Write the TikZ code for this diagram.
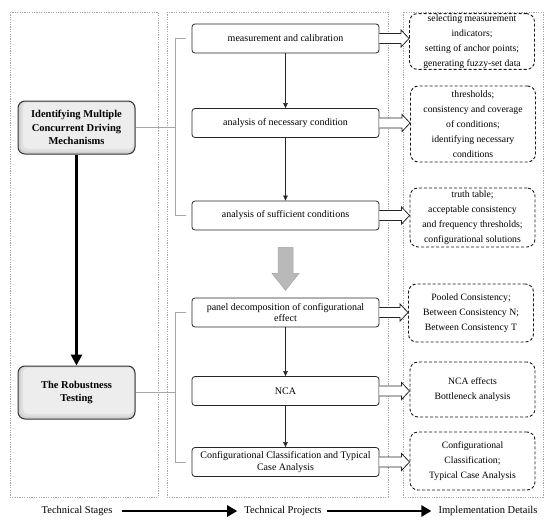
\documentclass[tikz,border=0pt]{standalone}
\usepackage{fontspec}
\setmainfont{Liberation Serif}
\usetikzlibrary{arrows.meta,calc}
\begin{document}
\begin{tikzpicture}[x=1pt,y=-1pt,
  panel/.style={draw=gray!70, dash pattern=on 1.2pt off 1.2pt, line width=0.6pt},
  midbox/.style={draw=black!85, rounded corners=3pt, line width=0.8pt, minimum width=187pt, minimum height=29pt, align=center, inner sep=1pt, font=\fontsize{10}{11.5}\selectfont},
  detail/.style={draw=black!90, dash pattern=on 3pt off 2pt, rounded corners=8pt, line width=0.9pt, minimum width=125pt, align=center, inner sep=1pt, font=\fontsize{9.7}{15}\selectfont},
  stagebox/.style={draw=black!80, rounded corners=7pt, line width=1pt, fill=gray!38, minimum width=117pt, minimum height=53pt, align=center, inner sep=1pt, font=\bfseries\fontsize{10.5}{13.5}\selectfont,
    path picture={
      \fill[gray!25, rounded corners=6pt] ($(path picture bounding box.south west)+(2.5,-2.5)$) rectangle ($(path picture bounding box.north east)+(-0.5,0.5)$);
      \fill[gray!14, rounded corners=5pt] ($(path picture bounding box.south west)+(5,-5)$) rectangle ($(path picture bounding box.north east)+(-1.5,1.5)$);
    }},
  thinarrow/.style={draw=black!85, line width=0.6pt, -{Triangle[length=5pt,width=4.5pt]}},
  bracket/.style={draw=gray!70, line width=0.6pt},
  hollow/.style={draw=black!85, line width=0.8pt, fill=white},
  bigarrow/.style={line width=2.6pt, -{Triangle[length=10pt,width=11pt]}},
  label/.style={font=\fontsize{10.5}{12}\selectfont, inner sep=0pt}
]
\useasboundingbox (0,0) rectangle (550,525);

% panels
\draw[panel] (10,12) rectangle (158,497);
\draw[panel] (167,12) rectangle (388,497);
\draw[panel] (403,12) rectangle (543,497);

% stage boxes
\node[stagebox] (A) at (76.5,127.5) {Identifying Multiple\\Concurrent Driving\\Mechanisms};
\node[stagebox] (B) at (76.5,392.5) {The Robustness\\Testing};

% middle boxes
\node[midbox] (m1) at (285.5,38.5) {measurement and calibration};
\node[midbox] (m2) at (285.5,123) {analysis of necessary condition};
\node[midbox] (m3) at (285.5,215.5) {analysis of sufficient conditions};
\node[midbox] (m4) at (285.5,312.5) {panel decomposition of configurational\\effect};
\node[midbox] (m5) at (285.5,391) {NCA};
\node[midbox] (m6) at (285.5,462) {Configurational Classification and Typical\\Case Analysis};

% detail boxes
\node[detail, minimum height=54pt] (r1) at (472,41.5) {selecting measurement\\indicators;\\setting of anchor points;\\generating fuzzy-set data};
\node[detail, minimum height=76pt] (r2) at (473,124) {thresholds;\\consistency and coverage\\of conditions;\\identifying necessary\\conditions};
\node[detail, minimum height=59pt] (r3) at (472.5,217.5) {truth table;\\acceptable consistency\\and frequency thresholds;\\configurational solutions};
\node[detail, minimum height=58pt] (r4) at (471,313) {Pooled Consistency;\\Between Consistency N;\\Between Consistency T};
\node[detail, minimum height=55pt] (r5) at (472.5,389.5) {NCA effects\\Bottleneck analysis};
\node[detail, minimum height=58pt] (r6) at (472.5,461) {Configurational\\Classification;\\Typical Case Analysis};

% thick stage arrow
\draw[line width=3pt, -{Triangle[length=11pt,width=11pt]}] (A.south) -- (B.north);

% middle arrows
\draw[thinarrow] (m1.south) -- (m2.north);
\draw[thinarrow] (m2.south) -- (m3.north);
\draw[thinarrow] (m4.south) -- (m5.north);
\draw[thinarrow] (m5.south) -- (m6.north);

% brackets
\coordinate (b1) at ($(m1.west)+(-16,0)$);
\coordinate (b2) at ($(m4.west)+(-16,0)$);
\draw[bracket] ($(m1.west)+(-6,0)$) -- (b1) |- ($(m3.west)+(-6,0)$);
\draw[bracket] ($(m4.west)+(-6,0)$) -- (b2) |- ($(m6.west)+(-6,0)$);
\draw[bracket] (A.east) -- (A.east -| b1);
\draw[bracket] (B.east) -- (B.east -| b2);

% gray block arrow
\filldraw[fill=gray!55, draw=gray!70, line width=0.5pt]
  ($(m3.south)+(-7.5,17)$) -- ($(m3.south)+(7.5,17)$) -- ($(m3.south)+(7.5,43)$) -- ($(m3.south)+(13.5,43)$)
  -- ($(m3.south)+(0,60)$) -- ($(m3.south)+(-13.5,43)$) -- ($(m3.south)+(-7.5,43)$) -- cycle;

% hollow arrows
\foreach \a/\b in {m1/r1,m2/r2,m3/r3,m4/r4,m5/r5,m6/r6}{
  \draw[hollow] ($(\a.east)+(0,-5)$) -- ($(\a.east -| \b.west)+(-8,-5)$) -- ($(\a.east -| \b.west)+(-8,-8.5)$)
    -- ($(\a.east -| \b.west)$) -- ($(\a.east -| \b.west)+(-8,8.5)$) -- ($(\a.east -| \b.west)+(-8,5)$)
    -- ($(\a.east)+(0,5)$);
}

% bottom labels
\node[label] (ts) at (77,511) {Technical Stages};
\node[label] (tp) at (283,511) {Technical Projects};
\node[label] (id) at (488,511) {Implementation Details};
\draw[bigarrow] ($(ts.east)+(9,0)$) -- ($(tp.west)+(-7,0)$);
\draw[bigarrow] ($(tp.east)+(5,0)$) -- ($(id.west)+(-7,0)$);
\end{tikzpicture}
\end{document}
